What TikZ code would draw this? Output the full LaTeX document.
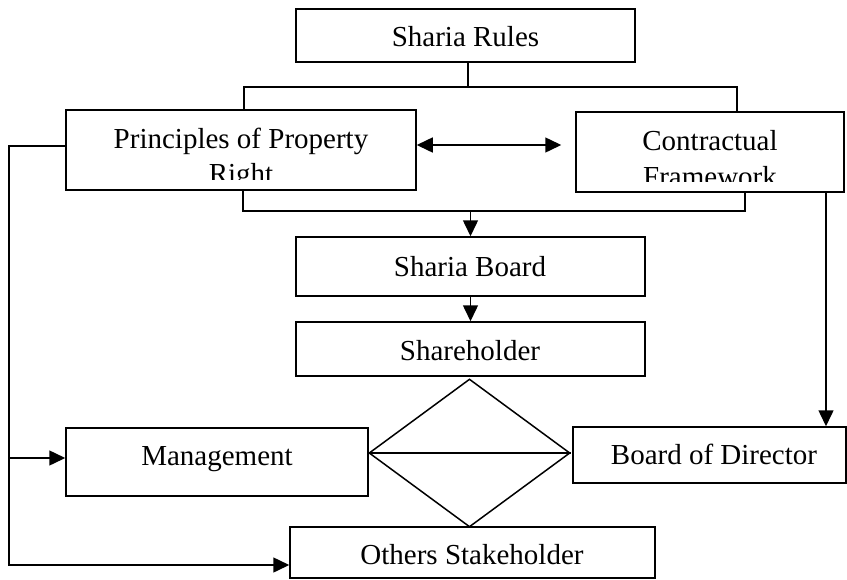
\documentclass[tikz,border=0pt]{standalone}
\usepackage{fontspec}
\setmainfont{Liberation Serif}
\usetikzlibrary{arrows.meta,shapes.geometric}
\tikzset{
  box/.style={draw, line width=1.5pt, inner sep=0pt, rectangle},
  txt/.style={anchor=base, inner sep=0pt, font=\fontsize{29}{33}\selectfont},
  conn/.style={line width=1.5pt},
  tip/.tip={Triangle[length=16pt,width=15pt]},
  arr/.style={line width=1.5pt, -tip},
  dbl/.style={line width=1.5pt, tip-tip}
}
\begin{document}
\begin{tikzpicture}[x=1pt,y=-1pt]
\useasboundingbox (0,0) rectangle (847,579);
% boxes
\node[box, minimum width=339pt, minimum height=53pt] (rules) at (465.5,35.5) {};
\node[box, minimum width=350pt, minimum height=80pt] (prop) at (241,150) {};
\node[box, minimum width=268pt, minimum height=80pt] (contract) at (710,152) {};
\node[box, minimum width=349pt, minimum height=59pt] (board) at (470.5,266.5) {};
\node[box, minimum width=349pt, minimum height=54pt] (share) at (470.5,349) {};
\node[box, minimum width=302pt, minimum height=68pt] (mgmt) at (217,462) {};
\node[box, minimum width=273pt, minimum height=56pt] (bod) at (709.5,455) {};
\node[box, minimum width=365pt, minimum height=51pt] (others) at (472.5,552.5) {};
\node[draw, diamond, line width=1.5pt, inner sep=0pt, minimum width=201pt, minimum height=148pt] (dia) at (469.5,453) {};
% texts
\node[txt] (t1) at (465.5,46.7) {Sharia Rules};
\begin{scope}
\clip (67,111) rectangle (415,179.5);
\node[txt] (t2) at (241,148.5) {Principles of Property};
\node[txt] (t3) at (241,183) {Right};
\end{scope}
\begin{scope}
\clip (577,113) rectangle (843,181.7);
\node[txt] (t4) at (710,150.5) {Contractual};
\node[txt] (t5) at (710,186) {Framework};
\end{scope}
\node[txt] (t6) at (470,276) {Sharia Board};
\node[txt] (t7) at (470,360) {Shareholder};
\node[txt] (t8) at (217,465) {Management};
\node[txt] (t9) at (714,464) {Board of Director};
\node[txt] (t10) at (472,564) {Others Stakeholder};
% connectors top
\coordinate (rS) at ([xshift=2.5pt]rules.south);
\coordinate (j1) at (rS |- 0,87);
\coordinate (pN) at ([xshift=3pt]prop.north);
\coordinate (cN) at ([xshift=27pt]contract.north);
\draw[conn] (rS) -- (j1);
\draw[conn] (pN) |- (cN |- j1) -- (cN);
% double arrow
\coordinate (a1) at ([yshift=5pt]prop.east);
\draw[dbl, shorten >=14pt] (a1) -- (a1 -| contract.west);
% bottom merge
\coordinate (j2) at (board.north |- 0,211);
\coordinate (pS) at ([xshift=2pt]prop.south);
\coordinate (cS) at ([xshift=35pt]contract.south);
\draw[conn] (pS) |- (cS |- j2) -- (cS);
\draw[arr] (j2) -- (board.north);
\draw[arr] (board.south) -- (share.north);
% contract to board of director
\coordinate (cR) at ([xshift=116pt]contract.south);
\draw[arr] (cR) -- (cR |- bod.north);
% left line
\coordinate (pW) at ([yshift=4pt]prop.west);
\coordinate (lx) at (9,0);
\coordinate (mA) at ([yshift=4pt]mgmt.west);
\coordinate (oA) at ([yshift=-12.5pt]others.west);
\draw[arr] (pW) -- (lx |- pW) |- (oA);
\draw[arr] (lx |- mA) -- (mA);
% diamond line
\draw[conn] (dia.west) -- (dia.east);
\end{tikzpicture}
\end{document}
